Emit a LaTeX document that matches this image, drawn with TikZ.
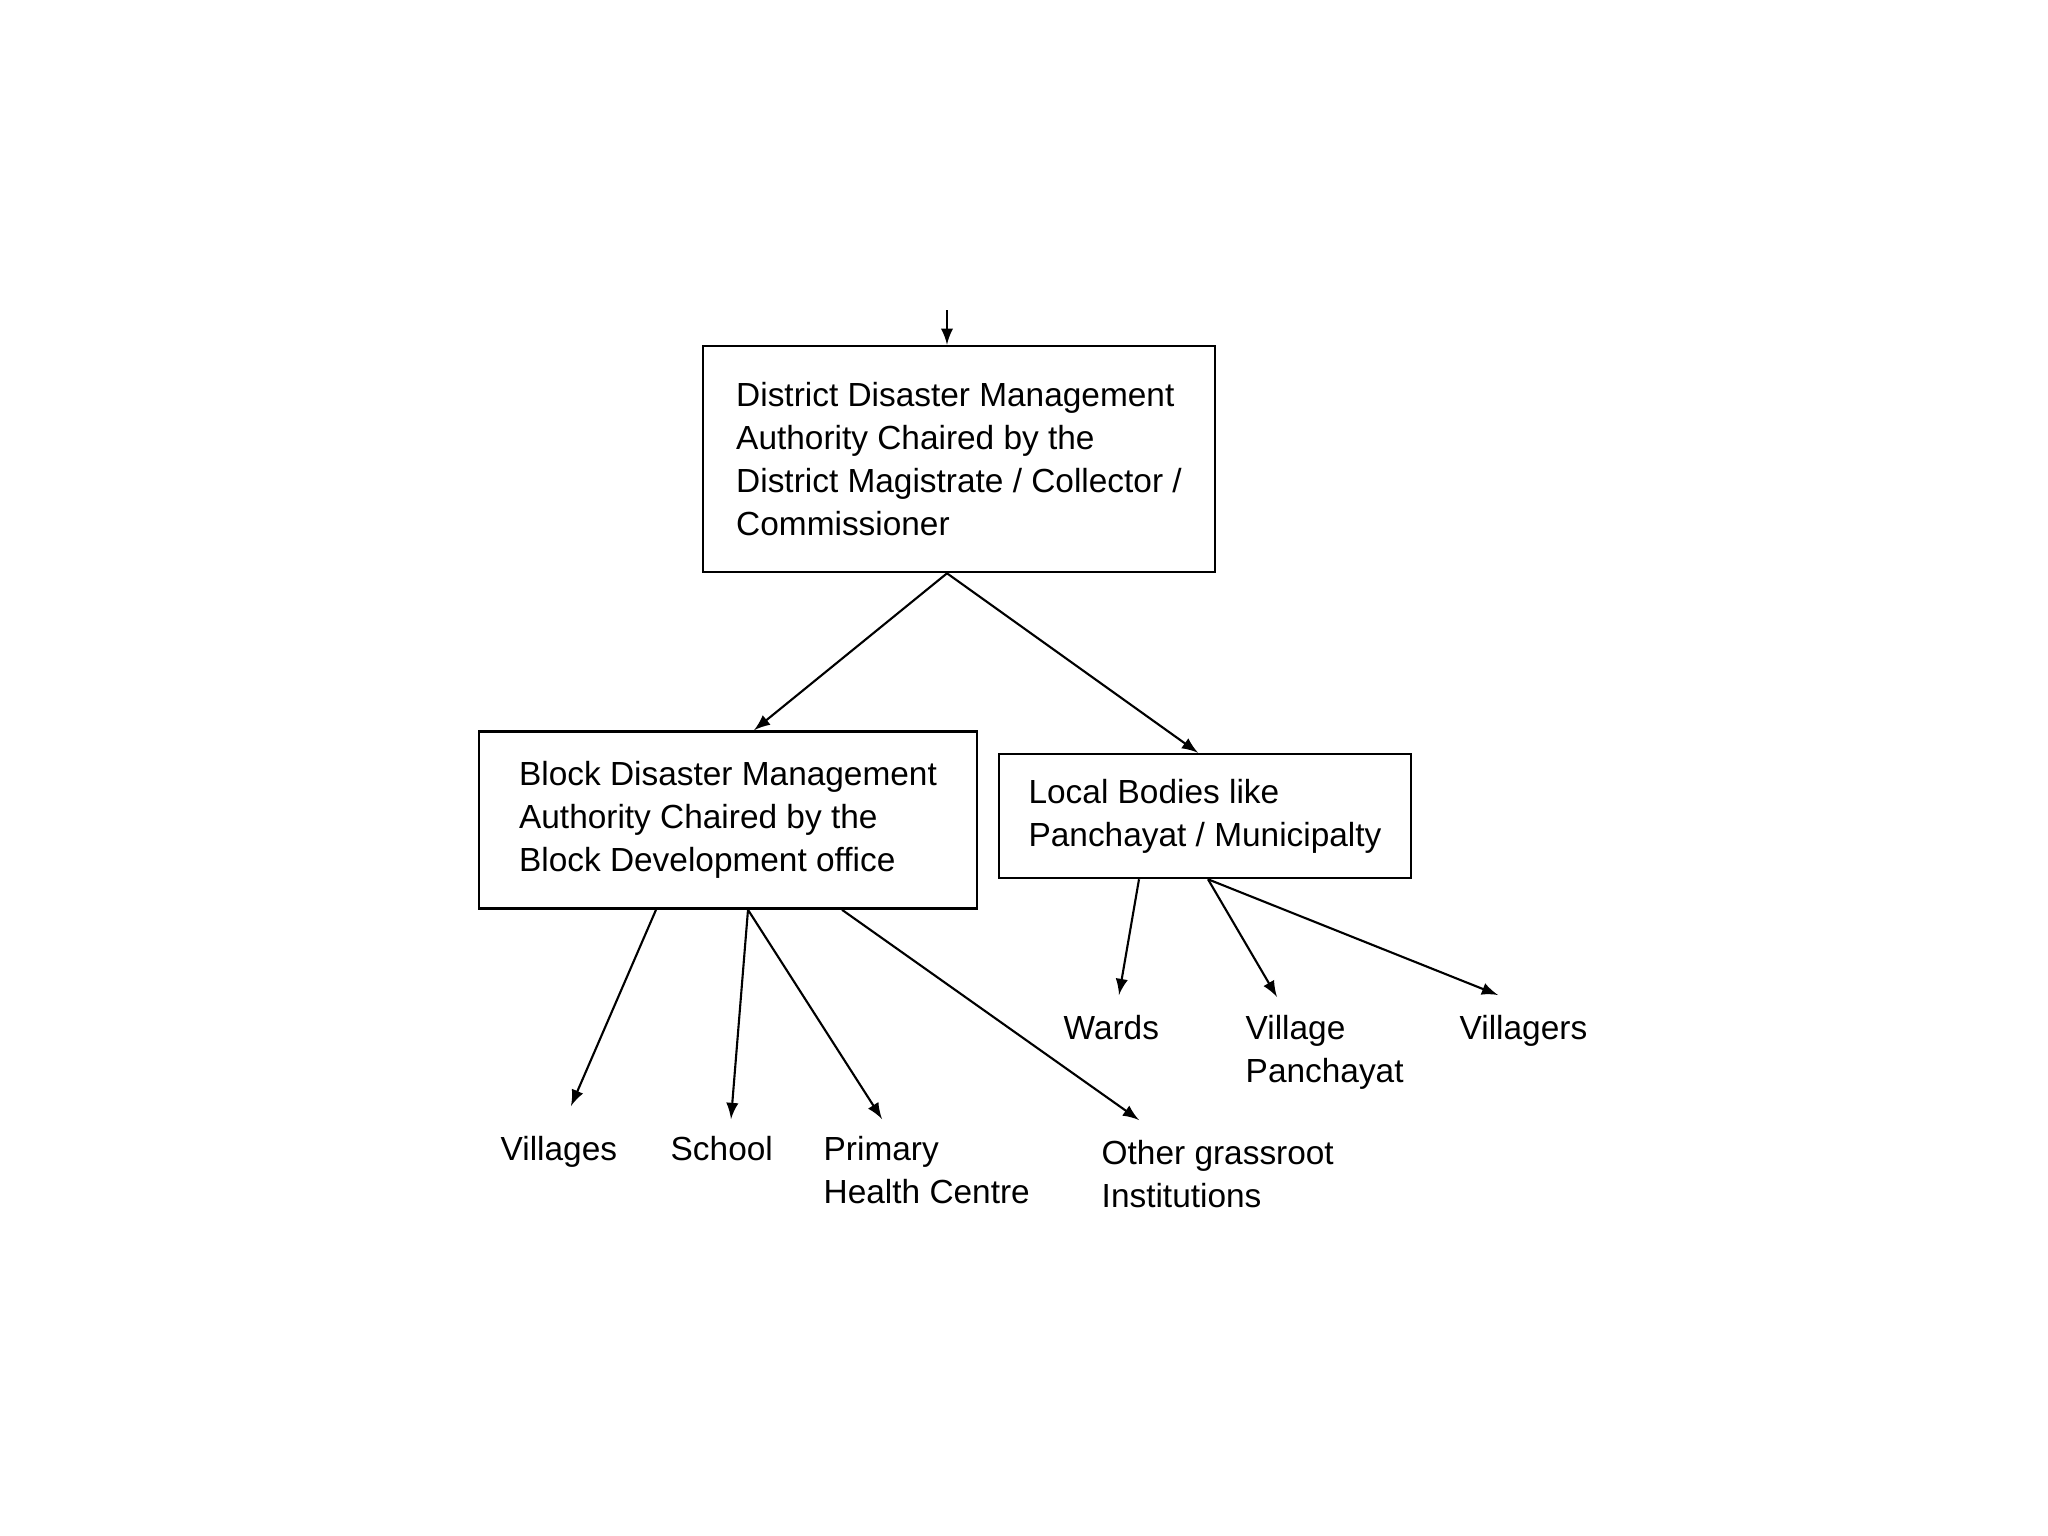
\documentclass[tikz,border=0pt]{standalone}
\usepackage{fontspec}
\setmainfont{Liberation Sans}
\begin{document}
\begin{tikzpicture}[x=0.01cm, y=-0.01cm, font=\fontsize{9.5}{12.2}\selectfont,
		box/.style={draw, line width=.7pt, align=left, inner sep=0},
		leaf/.style={align=left, inner sep=0, anchor=north west},
		arr/.style={-latex, line width=.6pt}]
		\useasboundingbox (0,0) rectangle (2048,1536);
		% boxes
		\node[box, minimum width=5.12cm, minimum height=2.26cm] (ddma) at (959,459) {District Disaster Management\\Authority Chaired by the\\District Magistrate / Collector /\\Commissioner};
		\node[box, minimum width=4.98cm, minimum height=1.77cm] (bdma) at (728,820) {Block Disaster Management\\Authority Chaired by the\\Block Development office};
		\node[box, minimum width=4.12cm, minimum height=1.24cm] (local) at (1205,816) {Local Bodies like\\Panchayat / Municipalty};
		% leaves
		\node[leaf] (vil) at (500,1136) {Villages};
		\node[leaf] (school) at (670,1136) {School};
		\node[leaf] (phc) at (823,1136) {Primary\\Health Centre};
		\node[leaf] (other) at (1101,1140) {Other grassroot\\Institutions};
		\node[leaf] (wards) at (1063,1015) {Wards};
		\node[leaf] (vpanch) at (1245,1015) {Village\\Panchayat};
		\node[leaf] (villagers) at (1459,1015) {Villagers};
		% arrows
		\coordinate (top) at (947,310);
		\draw[arr] (top) -- (top |- ddma.north);
		\draw[arr] ([shift={(-12,0)}]ddma.south) -- ([shift={(26,0)}]bdma.north);
		\draw[arr] ([shift={(-12,0)}]ddma.south) -- ([shift={(-7,0)}]local.north);
		\draw[arr] ([shift={(-72,0)}]bdma.south) -- ([shift={(71,-30)}]vil.north west);
		\draw[arr] ([shift={(20,0)}]bdma.south) -- ([shift={(61,-17)}]school.north west);
		\draw[arr] ([shift={(20,0)}]bdma.south) -- ([shift={(59,-17)}]phc.north west);
		\draw[arr] ([shift={(114,0)}]bdma.south) -- ([shift={(38,-20)}]other.north west);
		\draw[arr] ([shift={(-66,0)}]local.south) -- ([shift={(56,-20)}]wards.north west);
		\draw[arr] ([shift={(3,0)}]local.south) -- ([shift={(32,-18)}]vpanch.north west);
		\draw[arr] ([shift={(3,0)}]local.south) -- ([shift={(39,-20)}]villagers.north west);
\end{tikzpicture}
\end{document}
